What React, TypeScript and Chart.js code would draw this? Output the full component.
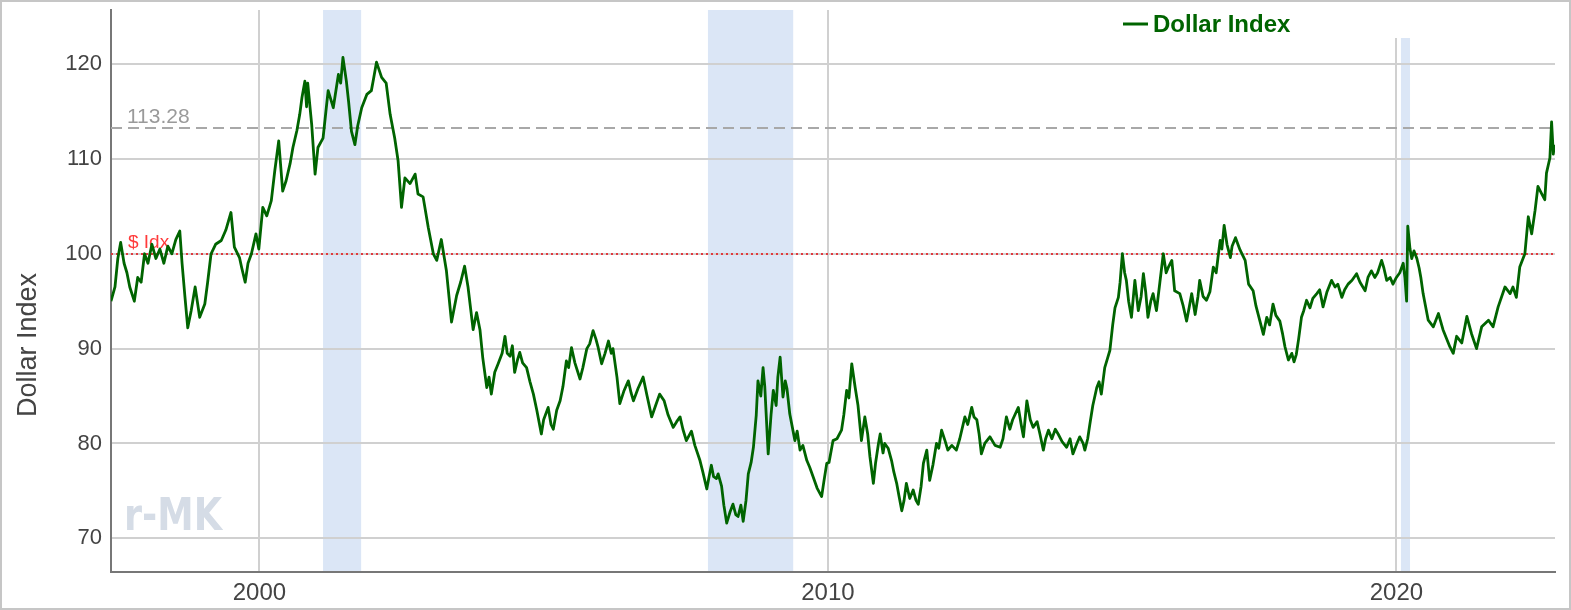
import React, { useEffect, useRef } from "react";
import { Chart, registerables } from "chart.js";

Chart.register(...registerables);

// Dollar index (fractional year -> index level)
const dates = [
  1997.39, 1997.46, 1997.51, 1997.56, 1997.62, 1997.67, 1997.72, 1997.8, 1997.86, 1997.92, 1997.98,
  1998.04, 1998.11, 1998.18, 1998.25, 1998.32, 1998.39, 1998.46, 1998.53, 1998.6, 1998.64, 1998.69,
  1998.74, 1998.8, 1998.87, 1998.95, 1999.04, 1999.09, 1999.15, 1999.23, 1999.33, 1999.41, 1999.5,
  1999.56, 1999.65, 1999.69, 1999.75, 1999.8, 1999.86, 1999.94, 1999.99, 2000.06, 2000.13, 2000.21,
  2000.27, 2000.34, 2000.41, 2000.47, 2000.54, 2000.59, 2000.66, 2000.71, 2000.75, 2000.8, 2000.83,
  2000.85, 2000.92, 2000.98, 2001.03, 2001.12, 2001.17, 2001.21, 2001.3, 2001.39, 2001.43, 2001.47,
  2001.53, 2001.57, 2001.62, 2001.68, 2001.73, 2001.8, 2001.89, 2001.97, 2002.01, 2002.06, 2002.15,
  2002.23, 2002.3, 2002.38, 2002.44, 2002.5, 2002.56, 2002.65, 2002.74, 2002.79, 2002.88, 2002.97,
  2003.06, 2003.12, 2003.2, 2003.29, 2003.38, 2003.47, 2003.54, 2003.61, 2003.67, 2003.76, 2003.82,
  2003.88, 2003.93, 2004.0, 2004.04, 2004.08, 2004.14, 2004.2, 2004.27, 2004.32, 2004.36, 2004.41,
  2004.45, 2004.49, 2004.54, 2004.58, 2004.63, 2004.7, 2004.76, 2004.82, 2004.88, 2004.96, 2005.0,
  2005.08, 2005.13, 2005.17, 2005.23, 2005.29, 2005.34, 2005.4, 2005.44, 2005.49, 2005.55, 2005.64,
  2005.69, 2005.76, 2005.81, 2005.87, 2005.92, 2005.96, 2006.02, 2006.08, 2006.14, 2006.19, 2006.22,
  2006.29, 2006.34, 2006.41, 2006.49, 2006.54, 2006.58, 2006.66, 2006.75, 2006.82, 2006.9, 2006.97,
  2007.04, 2007.12, 2007.19, 2007.28, 2007.34, 2007.4, 2007.45, 2007.51, 2007.6, 2007.66, 2007.75,
  2007.8, 2007.87, 2007.91, 2007.95, 2007.99, 2008.04, 2008.07, 2008.13, 2008.17, 2008.22, 2008.28,
  2008.33, 2008.38, 2008.42, 2008.47, 2008.51, 2008.56, 2008.6, 2008.65, 2008.69, 2008.74, 2008.77,
  2008.82, 2008.86, 2008.89, 2008.95, 2009.0, 2009.04, 2009.09, 2009.12, 2009.16, 2009.21, 2009.25,
  2009.28, 2009.33, 2009.42, 2009.46, 2009.51, 2009.56, 2009.63, 2009.68, 2009.74, 2009.81, 2009.89,
  2009.93, 2009.98, 2010.02, 2010.09, 2010.16, 2010.24, 2010.28, 2010.33, 2010.37, 2010.42, 2010.48,
  2010.53, 2010.59, 2010.65, 2010.7, 2010.74, 2010.8, 2010.84, 2010.89, 2010.92, 2010.97, 2011.0,
  2011.06, 2011.12, 2011.16, 2011.21, 2011.25, 2011.3, 2011.34, 2011.38, 2011.44, 2011.5, 2011.55,
  2011.59, 2011.64, 2011.68, 2011.74, 2011.79, 2011.85, 2011.91, 2011.95, 2012.0, 2012.06, 2012.11,
  2012.18, 2012.26, 2012.32, 2012.41, 2012.46, 2012.53, 2012.57, 2012.62, 2012.66, 2012.7, 2012.76,
  2012.85, 2012.94, 2013.03, 2013.08, 2013.14, 2013.2, 2013.25, 2013.35, 2013.4, 2013.44, 2013.5,
  2013.56, 2013.61, 2013.68, 2013.73, 2013.79, 2013.83, 2013.88, 2013.94, 2014.0, 2014.05, 2014.12,
  2014.2, 2014.26, 2014.31, 2014.38, 2014.43, 2014.49, 2014.52, 2014.57, 2014.61, 2014.66, 2014.73,
  2014.77, 2014.81, 2014.87, 2014.92, 2014.96, 2015.01, 2015.05, 2015.11, 2015.14, 2015.18, 2015.22,
  2015.25, 2015.29, 2015.34, 2015.4, 2015.46, 2015.51, 2015.55, 2015.59, 2015.63, 2015.68, 2015.72,
  2015.78, 2015.84, 2015.9, 2015.95, 2015.99, 2016.05, 2016.1, 2016.19, 2016.25, 2016.31, 2016.36,
  2016.4, 2016.46, 2016.51, 2016.54, 2016.6, 2016.66, 2016.72, 2016.78, 2016.83, 2016.86, 2016.9,
  2016.93, 2016.97, 2017.02, 2017.08, 2017.11, 2017.17, 2017.25, 2017.34, 2017.4, 2017.48, 2017.53,
  2017.6, 2017.66, 2017.72, 2017.77, 2017.83, 2017.88, 2017.95, 2018.0, 2018.04, 2018.1, 2018.16,
  2018.2, 2018.24, 2018.28, 2018.33, 2018.37, 2018.42, 2018.48, 2018.53, 2018.6, 2018.65, 2018.71,
  2018.78, 2018.86, 2018.92, 2018.97, 2019.04, 2019.09, 2019.15, 2019.22, 2019.3, 2019.36, 2019.45,
  2019.5, 2019.56, 2019.62, 2019.67, 2019.74, 2019.78, 2019.83, 2019.89, 2019.94, 2020.0, 2020.06,
  2020.12, 2020.15, 2020.18, 2020.2, 2020.24, 2020.27, 2020.31, 2020.36, 2020.4, 2020.43, 2020.47,
  2020.56, 2020.65, 2020.74, 2020.82, 2020.94, 2021.0, 2021.06, 2021.15, 2021.24, 2021.32, 2021.41,
  2021.5, 2021.62, 2021.7, 2021.79, 2021.91, 2022.0, 2022.05, 2022.11, 2022.17, 2022.26, 2022.32,
  2022.38, 2022.44, 2022.49, 2022.55, 2022.61, 2022.64, 2022.7, 2022.73, 2022.76, 2022.78,
];

const values = [
  95.0, 96.5, 99.5, 101.2, 99.0, 98.0, 96.5, 95.0, 97.5, 97.0, 100.0,
  99.0, 101.0, 99.5, 100.5, 99.0, 100.8, 100.0, 101.5, 102.4, 99.0, 95.5,
  92.2, 94.0, 96.5, 93.3, 94.7, 97.0, 100.0, 101.0, 101.4, 102.5, 104.35,
  100.7, 99.6, 98.5, 97.0, 99.0, 100.0, 102.1, 100.5, 104.9, 104.0, 105.6,
  108.7, 111.9, 106.6, 107.7, 109.5, 111.2, 113.0, 114.7, 116.5, 118.2, 115.5,
  118.0, 113.65, 108.4, 111.2, 112.2, 115.0, 117.2, 115.4, 118.9, 118.0, 120.7,
  118.2, 116.0, 112.9, 111.5, 113.5, 115.4, 116.8, 117.2, 118.5, 120.2, 118.6,
  118.0, 114.7, 112.2, 109.8, 104.9, 108.0, 107.4, 108.4, 106.3, 106.0, 102.8,
  100.0, 99.3, 101.5, 98.2, 92.8, 95.6, 97.0, 98.7, 96.5, 92.0, 93.8,
  92.0, 89.0, 85.9, 87.0, 85.2, 87.5, 88.4, 89.5, 91.3, 89.5, 89.2,
  90.3, 87.5, 88.8, 89.6, 88.5, 88.0, 86.5, 85.2, 83.5, 81.0, 82.5,
  83.8, 82.0, 81.5, 83.5, 84.5, 86.0, 88.7, 88.0, 90.1, 88.5, 86.8,
  88.0, 90.0, 90.5, 91.9, 91.0, 90.1, 88.4, 89.5, 90.8, 89.5, 90.0,
  87.0, 84.2, 85.5, 86.6, 85.3, 84.5, 85.8, 87.0, 85.0, 82.8, 84.0,
  85.2, 84.5, 83.0, 81.7, 82.3, 82.8, 81.5, 80.3, 81.3, 79.8, 78.2,
  77.0, 75.2, 76.5, 77.7, 76.5, 76.3, 76.8, 75.5, 73.5, 71.6, 72.8,
  73.6, 72.5, 72.3, 73.5, 71.8, 74.0, 76.8, 78.0, 79.6, 83.0, 86.6,
  85.0, 88.0, 86.0, 78.9, 83.0, 85.6, 84.0, 87.0, 89.1, 84.9, 86.6,
  85.8, 83.1, 80.3, 81.3, 79.3, 79.8, 78.2, 77.5, 76.5, 75.3, 74.4,
  76.0, 77.9, 78.0, 80.3, 80.5, 81.4, 83.0, 85.6, 84.8, 88.4, 85.9,
  84.0, 80.3, 82.8, 81.0, 78.6, 75.8, 78.0, 80.0, 81.0, 79.0, 80.0,
  79.5, 78.2, 77.0, 75.8, 74.5, 72.9, 74.0, 75.8, 74.2, 75.1, 74.0,
  73.6, 75.5, 77.9, 79.3, 76.1, 77.8, 80.0, 79.5, 81.4, 80.3, 79.3,
  79.8, 79.3, 80.5, 82.8, 82.0, 83.8, 82.8, 82.5, 81.0, 78.9, 80.0,
  80.7, 79.8, 79.6, 80.5, 82.8, 81.5, 82.5, 83.8, 82.0, 80.7, 84.5,
  82.5, 81.7, 82.3, 81.0, 79.3, 80.5, 81.4, 80.5, 81.5, 81.0, 80.2,
  79.6, 80.5, 78.9, 80.0, 80.7, 80.0, 79.3, 80.5, 82.1, 84.0, 85.9,
  86.5, 85.2, 88.0, 89.0, 89.8, 92.5, 94.3, 95.4, 97.0, 100.0, 98.0,
  97.2, 95.0, 93.3, 97.2, 94.0, 95.5, 97.9, 96.0, 93.3, 95.0, 95.8,
  94.0, 97.0, 100.0, 98.0, 98.6, 99.3, 96.1, 95.8, 94.5, 92.9, 94.5,
  95.8, 93.6, 95.5, 97.2, 95.5, 95.1, 96.0, 98.6, 98.0, 99.5, 101.4,
  100.5, 103.0, 101.0, 99.6, 100.8, 101.7, 100.4, 99.3, 96.8, 96.1, 94.5,
  92.9, 91.5, 93.3, 92.5, 94.7, 93.5, 92.9, 91.5, 90.2, 88.8, 89.5,
  88.6, 89.4, 91.0, 93.3, 94.0, 95.1, 94.3, 95.3, 95.8, 96.2, 94.4,
  96.0, 97.2, 96.5, 96.8, 95.4, 96.2, 96.8, 97.2, 97.9, 97.0, 96.1,
  97.5, 98.2, 97.5, 98.0, 99.3, 98.5, 97.2, 97.5, 96.8, 97.5, 98.0,
  99.0, 97.5, 95.0, 102.9, 100.5, 99.5, 100.3, 99.5, 98.5, 97.5, 95.8,
  93.0, 92.3, 93.7, 92.0, 90.2, 89.5, 91.3, 90.6, 93.4, 91.6, 90.0,
  92.3, 93.0, 92.3, 94.4, 96.5, 95.8, 96.5, 95.4, 98.6, 100.0, 103.9,
  102.1, 104.6, 107.1, 106.4, 105.7, 108.5, 110.1, 113.9, 110.5, 111.5,
];

const seriesLabel = "Dollar Index";
const axisTitle = "Dollar Index";
const xTickValues = [2000, 2010, 2020];
const yTickValues = [70, 80, 90, 100, 110, 120];
const xRange = [1997.39, 2022.79];
const yRange = [66.45, 125.7];
const recessionStart = [2001.12, 2007.89, 2020.08];
const recessionEnd = [2001.79, 2009.39, 2020.24];
const refHigh = 113.28;
const refHighLabel = "113.28";
const refLevel = 100;
const refLevelLabel = "$ Idx";
const watermark = "r-MK";

const FONT = "'Liberation Sans', Arial, Helvetica, sans-serif";
const GREEN = "#006400";

export default function App() {
  const ref = useRef<HTMLCanvasElement>(null);

  useEffect(() => {
    const canvas = ref.current;
    if (!canvas) return;

    const overlay = {
      id: "overlay",
      beforeDraw(chart: any) {
        const { ctx, chartArea: a, scales } = chart;
        const x = scales.x;
        ctx.save();
        ctx.fillStyle = "#dbe6f6";
        for (let i = 0; i < recessionStart.length; i++) {
          const x0 = x.getPixelForValue(recessionStart[i]);
          const x1 = x.getPixelForValue(recessionEnd[i]);
          ctx.fillRect(x0, a.top, x1 - x0, a.bottom - a.top);
        }
        ctx.restore();
      },
      beforeDatasetsDraw(chart: any) {
        const { ctx, chartArea: a, scales } = chart;
        const y = scales.y;
        // watermark
        ctx.save();
        ctx.font = `bold 40px 'DejaVu Sans', sans-serif`;
        const w = ctx.measureText(watermark).width;
        ctx.translate(a.left + 13, a.bottom - 42);
        ctx.scale(98 / w, 1.13);
        ctx.fillStyle = "#d5dce6";
        ctx.textBaseline = "alphabetic";
        ctx.fillText(watermark, 0, 0);
        ctx.restore();

        // dashed reference line
        ctx.save();
        const yh = Math.round(y.getPixelForValue(refHigh));
        ctx.strokeStyle = "#a8a8a8";
        ctx.lineWidth = 2;
        ctx.setLineDash([11, 6]);
        ctx.beginPath();
        ctx.moveTo(a.left, yh);
        ctx.lineTo(a.right, yh);
        ctx.stroke();
        ctx.fillStyle = "#9a9a9a";
        ctx.font = `21px ${FONT}`;
        ctx.textBaseline = "alphabetic";
        ctx.fillText(refHighLabel, a.left + 16, yh - 5);
        ctx.restore();

        // dotted red line
        ctx.save();
        const yl = Math.round(y.getPixelForValue(refLevel));
        ctx.strokeStyle = "#e0393e";
        ctx.lineWidth = 2;
        ctx.setLineDash([2, 3]);
        ctx.beginPath();
        ctx.moveTo(a.left, yl);
        ctx.lineTo(a.right, yl);
        ctx.stroke();
        ctx.fillStyle = "#ff3b3b";
        ctx.font = `19px ${FONT}`;
        ctx.textBaseline = "alphabetic";
        ctx.fillText(refLevelLabel, a.left + 17, yl - 6);
        ctx.restore();
      },
      afterDraw(chart: any) {
        const { ctx, chartArea: a } = chart;
        // legend box
        ctx.save();
        ctx.fillStyle = "#ffffff";
        ctx.fillRect(1108, a.top, 310, 28);
        ctx.strokeStyle = GREEN;
        ctx.lineWidth = 3;
        ctx.beginPath();
        ctx.moveTo(1121, 22);
        ctx.lineTo(1146, 22);
        ctx.stroke();
        ctx.fillStyle = GREEN;
        ctx.font = `bold 24px ${FONT}`;
        ctx.textBaseline = "middle";
        ctx.fillText(seriesLabel, 1151, 23);
        ctx.restore();

        // y axis title
        ctx.save();
        ctx.translate(27, 343);
        ctx.rotate(-Math.PI / 2);
        ctx.fillStyle = "#444";
        ctx.font = `27px ${FONT}`;
        ctx.textAlign = "center";
        ctx.textBaseline = "middle";
        ctx.fillText(axisTitle, 0, 0);
        ctx.restore();
      },
    };

    const chart = new Chart(canvas, {
      type: "line",
      data: {
        datasets: [
          {
            label: seriesLabel,
            data: dates.map((d, i) => ({ x: d, y: values[i] })),
            borderColor: GREEN,
            borderWidth: 2.8,
            pointRadius: 0,
            tension: 0,
            fill: false,
            borderJoinStyle: "round",
          },
        ],
      },
      options: {
        animation: false,
        responsive: false,
        layout: { padding: { top: 8, right: 14, left: 0, bottom: 0 } },
        plugins: { legend: { display: false }, tooltip: { enabled: false } },
        scales: {
          x: {
            type: "linear",
            min: xRange[0],
            max: xRange[1],
            afterBuildTicks: (s: any) => {
              s.ticks = xTickValues.map((v) => ({ value: v }));
            },
            afterFit: (s: any) => {
              s.height = 36;
              s.paddingLeft = 0;
              s.paddingRight = 0;
            },
            grid: { color: "#d0d0d0", lineWidth: 2, drawTicks: false },
            border: { display: true, color: "#777", width: 2 },
            ticks: {
              color: "#444",
              font: { family: FONT, size: 24 },
              padding: 7,
              maxRotation: 0,
              autoSkip: false,
              callback: (v: any) => String(v),
            },
          },
          y: {
            type: "linear",
            min: yRange[0],
            max: yRange[1],
            afterBuildTicks: (s: any) => {
              s.ticks = yTickValues.map((v) => ({ value: v }));
            },
            afterFit: (s: any) => {
              s.width = 109;
              s.paddingTop = 0;
              s.paddingBottom = 0;
            },
            grid: { color: "#d0d0d0", lineWidth: 2, drawTicks: false },
            border: { display: true, color: "#777", width: 2 },
            ticks: {
              color: "#444",
              font: { family: FONT, size: 22 },
              padding: 9,
              autoSkip: false,
              callback: (v: any) => String(v),
            },
          },
        },
      },
      plugins: [overlay],
    } as any);

    return () => chart.destroy();
  }, []);

  return (
    <div
      style={{
        position: "fixed",
        left: 0,
        top: 0,
        width: 1571,
        height: 610,
        boxSizing: "border-box",
        border: "2px solid #c6c6c6",
        background: "#fff",
      }}
    >
      <canvas ref={ref} width={1567} height={606} style={{ display: "block", width: 1567, height: 606 }} />
    </div>
  );
}
